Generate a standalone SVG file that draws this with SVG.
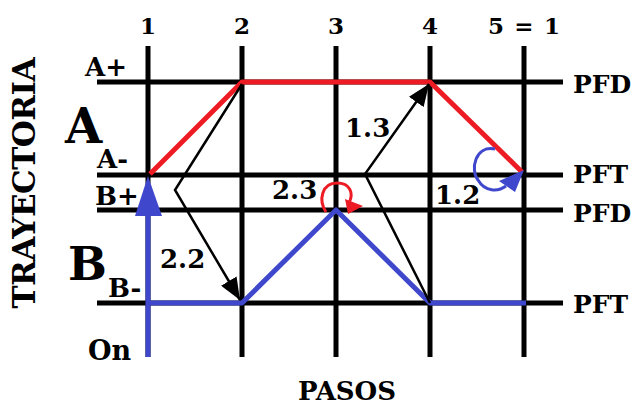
<svg xmlns="http://www.w3.org/2000/svg" width="635" height="405" viewBox="0 0 635 405">
<defs>
<style>
.t{font-family:"DejaVu Serif","Liberation Serif",serif;font-weight:bold;fill:#000}
.grid{stroke:#000;stroke-width:5;fill:none}
.red{stroke:#ed1c24;stroke-width:5;fill:none;stroke-linejoin:round}
.blue{stroke:#3f48cc;stroke-width:5;fill:none;stroke-linejoin:round}
.blk{stroke:#000;stroke-width:2.5;fill:none}
</style>
<marker id="ah" markerUnits="userSpaceOnUse" viewBox="0 0 22 18" refX="22" refY="9" markerWidth="22" markerHeight="18" orient="auto">
<path d="M0,0 L22,9 L0,18 z" fill="#000"/>
</marker>
</defs>
<rect width="635" height="405" fill="#fff"/>
<g id="grid" class="grid">
<line x1="148" y1="46" x2="148" y2="357"/>
<line x1="242" y1="46" x2="242" y2="357"/>
<line x1="336" y1="46" x2="336" y2="357"/>
<line x1="430" y1="46" x2="430" y2="357"/>
<line x1="524" y1="46" x2="524" y2="357"/>
<line x1="97" y1="82" x2="563" y2="82"/>
<line x1="97" y1="175" x2="563" y2="175"/>
<line x1="97" y1="210" x2="563" y2="210"/>
<line x1="97" y1="303" x2="563" y2="303"/>
</g>
<g id="steps">
<text class="t" x="148" y="34" font-size="23" text-anchor="middle">1</text>
<text class="t" x="242" y="34" font-size="23" text-anchor="middle">2</text>
<text class="t" x="336" y="34" font-size="23" text-anchor="middle">3</text>
<text class="t" x="430" y="34" font-size="23" text-anchor="middle">4</text>
<text class="t" x="524" y="34" font-size="23" text-anchor="middle" textLength="72">5 = 1</text>
</g>
<g id="axis-labels">
<text class="t" font-size="31" text-anchor="middle" transform="translate(35,183) rotate(-90)" textLength="251">TRAYECTORIA</text>
<text class="t" x="298" y="400" font-size="26">PASOS</text>
</g>
<g id="cylinder-A">
<text class="t" x="65" y="143" font-size="48">A</text>
<text class="t" x="85" y="76" font-size="26">A+</text>
<text class="t" x="97" y="168" font-size="26">A-</text>
<text class="t" x="573" y="93" font-size="25">PFD</text>
<text class="t" x="573" y="183" font-size="25">PFT</text>
<path id="traj-A" class="red" d="M150,174 L242,82 L430,82 L522,172"/>
</g>
<g id="cylinder-B">
<text class="t" x="68" y="280" font-size="46">B</text>
<text class="t" x="95" y="205" font-size="26">B+</text>
<text class="t" x="108" y="297" font-size="26">B-</text>
<text class="t" x="573" y="222" font-size="25">PFD</text>
<text class="t" x="573" y="313" font-size="25">PFT</text>
<text class="t" x="88" y="360" font-size="27">On</text>
<path id="traj-B" class="blue" d="M148,303 L242,303 L336,210 L430,303 L526,303"/>
</g>
<g id="connectors">
<path class="blue" d="M148,357 L148,214"/>
<polygon points="148,176 135,216 162,216" fill="#3f48cc"/>
<path class="blk" d="M242,84 L175,190 L240,300" marker-end="url(#ah)"/>
<path class="blk" d="M430,303 L365,174 L429,84" marker-end="url(#ah)"/>
<path d="M326,212 C318,200 322,183 337,183 C350,183 354,193 349,203" fill="none" stroke="#ed1c24" stroke-width="3"/>
<polygon points="345,199 363,206 348,214" fill="#ed1c24"/>
<path d="M495,149 C475,145 470,170 478,180 C485,192 498,192 506,186" fill="none" stroke="#3f48cc" stroke-width="3"/>
<polygon points="524,170 499,181 515,192" fill="#3f48cc"/>
</g>
<g id="step-labels">
<text class="t" x="160" y="268" font-size="26">2.2</text>
<text class="t" x="272" y="199" font-size="26">2.3</text>
<text class="t" x="345" y="137" font-size="26">1.3</text>
<text class="t" x="435" y="204" font-size="26">1.2</text>
</g>
</svg>
